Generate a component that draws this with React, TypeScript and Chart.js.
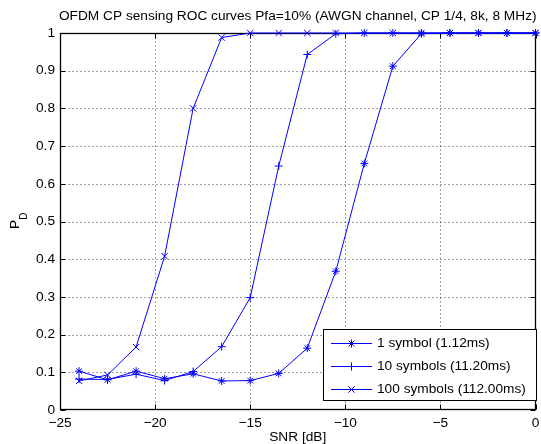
import React, { useEffect, useRef } from "react";
import { Chart, registerables } from "chart.js";

Chart.register(...registerables);

// ---- data ----
const snrDb = [-24, -22.5, -21, -19.5, -18, -16.5, -15, -13.5, -12, -10.5, -9, -7.5, -6, -4.5, -3, -1.5, 0];
const pdOneSymbol = [0.103, 0.080, 0.103, 0.083, 0.096, 0.077, 0.078, 0.097, 0.164, 0.368, 0.654, 0.912, 0.998, 1, 1, 1, 1];
const pdTenSymbols = [0.082, 0.081, 0.095, 0.078, 0.102, 0.168, 0.298, 0.647, 0.943, 0.998, 1, 1, 1, 1, 1, 1, 1];
const pdHundredSymbols = [0.077, 0.093, 0.167, 0.408, 0.800, 0.988, 1, 1, 1, 1, 1, 1, 1, 1, 1, 1, 1];

const seriesLabels = ["1 symbol (1.12ms)", "10 symbols (11.20ms)", "100 symbols (112.00ms)"];
const seriesMarkers = ["star", "cross", "crossRot"];

const xTicks = [-25, -20, -15, -10, -5, 0];
const yTicks = [0, 0.1, 0.2, 0.3, 0.4, 0.5, 0.6, 0.7, 0.8, 0.9, 1];

const titleText = "OFDM CP sensing ROC curves Pfa=10% (AWGN channel, CP 1/4, 8k, 8 MHz)";
const xLabelText = "SNR [dB]";
const yLabelMain = "P";
const yLabelSub = "D";

const FONT = "'Liberation Sans', Arial, Helvetica, sans-serif";
const FS = 13.7;
const BLUE = "#0000ff";

function fmtNum(v: number): string {
  const r = Math.round(v * 10) / 10;
  const s = String(Math.abs(r));
  return r < 0 ? "\u2212" + s : s;
}

function drawMarker(ctx: CanvasRenderingContext2D, style: string, x: number, y: number, r: number) {
  ctx.beginPath();
  if (style === "star" || style === "cross") {
    ctx.moveTo(x - r, y);
    ctx.lineTo(x + r, y);
    ctx.moveTo(x, y - r);
    ctx.lineTo(x, y + r);
  }
  if (style === "star" || style === "crossRot") {
    const d = r * 0.707;
    ctx.moveTo(x - d, y - d);
    ctx.lineTo(x + d, y + d);
    ctx.moveTo(x - d, y + d);
    ctx.lineTo(x + d, y - d);
  }
  ctx.stroke();
}

export default function App() {
  const ref = useRef<HTMLCanvasElement>(null);

  useEffect(() => {
    const canvas = ref.current;
    if (!canvas) return;

    const framePlugin = {
      id: "matlabFrame",
      beforeDatasetsDraw(chart: any) {
        const { ctx, chartArea: a, scales } = chart;
        const xs = scales.x;
        const ys = scales.y;
        const L = Math.round(a.left) + 0.5;
        const R = Math.round(a.right) - 0.5;
        const T = Math.round(a.top) + 0.5;
        const B = Math.round(a.bottom) - 0.5;
        ctx.save();
        ctx.lineWidth = 1;
        ctx.strokeStyle = "rgba(0,0,0,0.75)";
        ctx.setLineDash([1, 3]);
        for (const v of xTicks) {
          const px = Math.round(xs.getPixelForValue(v)) + 0.5;
          if (px <= L + 1 || px >= R - 1) continue;
          ctx.beginPath();
          ctx.moveTo(px, T);
          ctx.lineTo(px, B);
          ctx.stroke();
        }
        for (const v of yTicks) {
          const py = Math.round(ys.getPixelForValue(v)) + 0.5;
          if (py <= T + 1 || py >= B - 1) continue;
          ctx.beginPath();
          ctx.moveTo(L, py);
          ctx.lineTo(R, py);
          ctx.stroke();
        }
        ctx.setLineDash([]);
        ctx.strokeStyle = "#000";
        const tl = 5;
        ctx.beginPath();
        for (const v of xTicks) {
          const px = Math.round(xs.getPixelForValue(v)) + 0.5;
          ctx.moveTo(px, B);
          ctx.lineTo(px, B - tl);
          ctx.moveTo(px, T);
          ctx.lineTo(px, T + tl);
        }
        for (const v of yTicks) {
          const py = Math.round(ys.getPixelForValue(v)) + 0.5;
          ctx.moveTo(L, py);
          ctx.lineTo(L + tl, py);
          ctx.moveTo(R, py);
          ctx.lineTo(R - tl, py);
        }
        ctx.stroke();
        ctx.lineWidth = 1.3;
        ctx.strokeRect(L, T, R - L, B - T);
        ctx.restore();
      },
      afterDraw(chart: any) {
        const { ctx, chartArea: a } = chart;
        ctx.save();
        ctx.fillStyle = "#000";
        // title
        ctx.font = `${FS}px ${FONT}`;
        ctx.textAlign = "center";
        ctx.textBaseline = "middle";
        ctx.fillText(titleText, (a.left + a.right) / 2, 16.5);
        // x label
        ctx.fillText(xLabelText, (a.left + a.right) / 2, 437);
        // y label with subscript
        ctx.save();
        ctx.translate(15, 229);
        ctx.rotate(-Math.PI / 2);
        ctx.textAlign = "left";
        ctx.font = `${FS}px ${FONT}`;
        ctx.fillText(yLabelMain, 0, 0);
        const pw = ctx.measureText(yLabelMain).width;
        ctx.font = `10px ${FONT}`;
        ctx.fillText(yLabelSub, pw, 9.5);
        ctx.restore();

        // legend
        const bx = 323.5, by = 329.5, bw = 213, bh = 71;
        ctx.fillStyle = "#fff";
        ctx.fillRect(bx, by, bw, bh);
        ctx.strokeStyle = "#000";
        ctx.lineWidth = 1;
        ctx.strokeRect(bx, by, bw, bh);
        const rows = [343, 366, 389];
        ctx.font = `${FS}px ${FONT}`;
        ctx.textAlign = "left";
        ctx.textBaseline = "middle";
        chart.data.datasets.forEach((ds: any, i: number) => {
          const yy = rows[i] + 0.5;
          ctx.strokeStyle = BLUE;
          ctx.lineWidth = 1;
          ctx.beginPath();
          ctx.moveTo(331, yy);
          ctx.lineTo(372, yy);
          ctx.stroke();
          drawMarker(ctx, seriesMarkers[i], 351.5, yy, seriesMarkers[i] === "crossRot" ? 4.5 : 4);
          ctx.fillStyle = "#000";
          ctx.fillText(ds.label, 377, rows[i] + 0.5);
        });
        ctx.restore();
      },
    };

    const mk = (ys: number[], i: number) => ({
      label: seriesLabels[i],
      data: snrDb.map((x, k) => ({ x, y: ys[k] })),
      borderColor: BLUE,
      backgroundColor: BLUE,
      borderWidth: 1,
      pointStyle: seriesMarkers[i],
      pointRadius: seriesMarkers[i] === "crossRot" ? 4.5 : 4,
      pointBorderWidth: 1,
      pointBorderColor: BLUE,
      pointBackgroundColor: BLUE,
      tension: 0,
      clip: false,
    });

    const chart = new Chart(canvas, {
      type: "line",
      data: {
        datasets: [mk(pdOneSymbol, 0), mk(pdTenSymbols, 1), mk(pdHundredSymbols, 2)],
      },
      plugins: [framePlugin],
      options: {
        responsive: false,
        animation: false,
        events: [],
        layout: { padding: { top: 33, right: 3, left: 0, bottom: 0 } },
        plugins: {
          legend: { display: false },
          title: { display: false },
          tooltip: { enabled: false },
        },
        scales: {
          x: {
            type: "linear",
            min: -25,
            max: 0,
            grid: { display: false, drawTicks: false },
            border: { display: false },
            afterBuildTicks: (s: any) => {
              s.ticks = xTicks.map((v) => ({ value: v }));
            },
            ticks: {
              font: { family: FONT, size: FS },
              color: "#000",
              padding: 5,
              maxRotation: 0,
              autoSkip: false,
              callback: (v: any) => fmtNum(Number(v)),
            },
            afterFit: (s: any) => {
              s.height = 34;
              s.paddingLeft = 0;
              s.paddingRight = 0;
            },
          },
          y: {
            type: "linear",
            min: 0,
            max: 1,
            grid: { display: false, drawTicks: false },
            border: { display: false },
            afterBuildTicks: (s: any) => {
              s.ticks = yTicks.map((v) => ({ value: v }));
            },
            ticks: {
              font: { family: FONT, size: FS },
              color: "#000",
              padding: 5,
              autoSkip: false,
              callback: (v: any) => fmtNum(Number(v)),
            },
            afterFit: (s: any) => {
              s.width = 60;
              s.paddingTop = 0;
              s.paddingBottom = 0;
            },
          },
        },
      },
    } as any);

    return () => chart.destroy();
  }, []);

  return (
    <div style={{ position: "fixed", left: 0, top: 0, width: 541, height: 444, background: "#fff" }}>
      <canvas ref={ref} width={541} height={444} style={{ display: "block" }} />
    </div>
  );
}
